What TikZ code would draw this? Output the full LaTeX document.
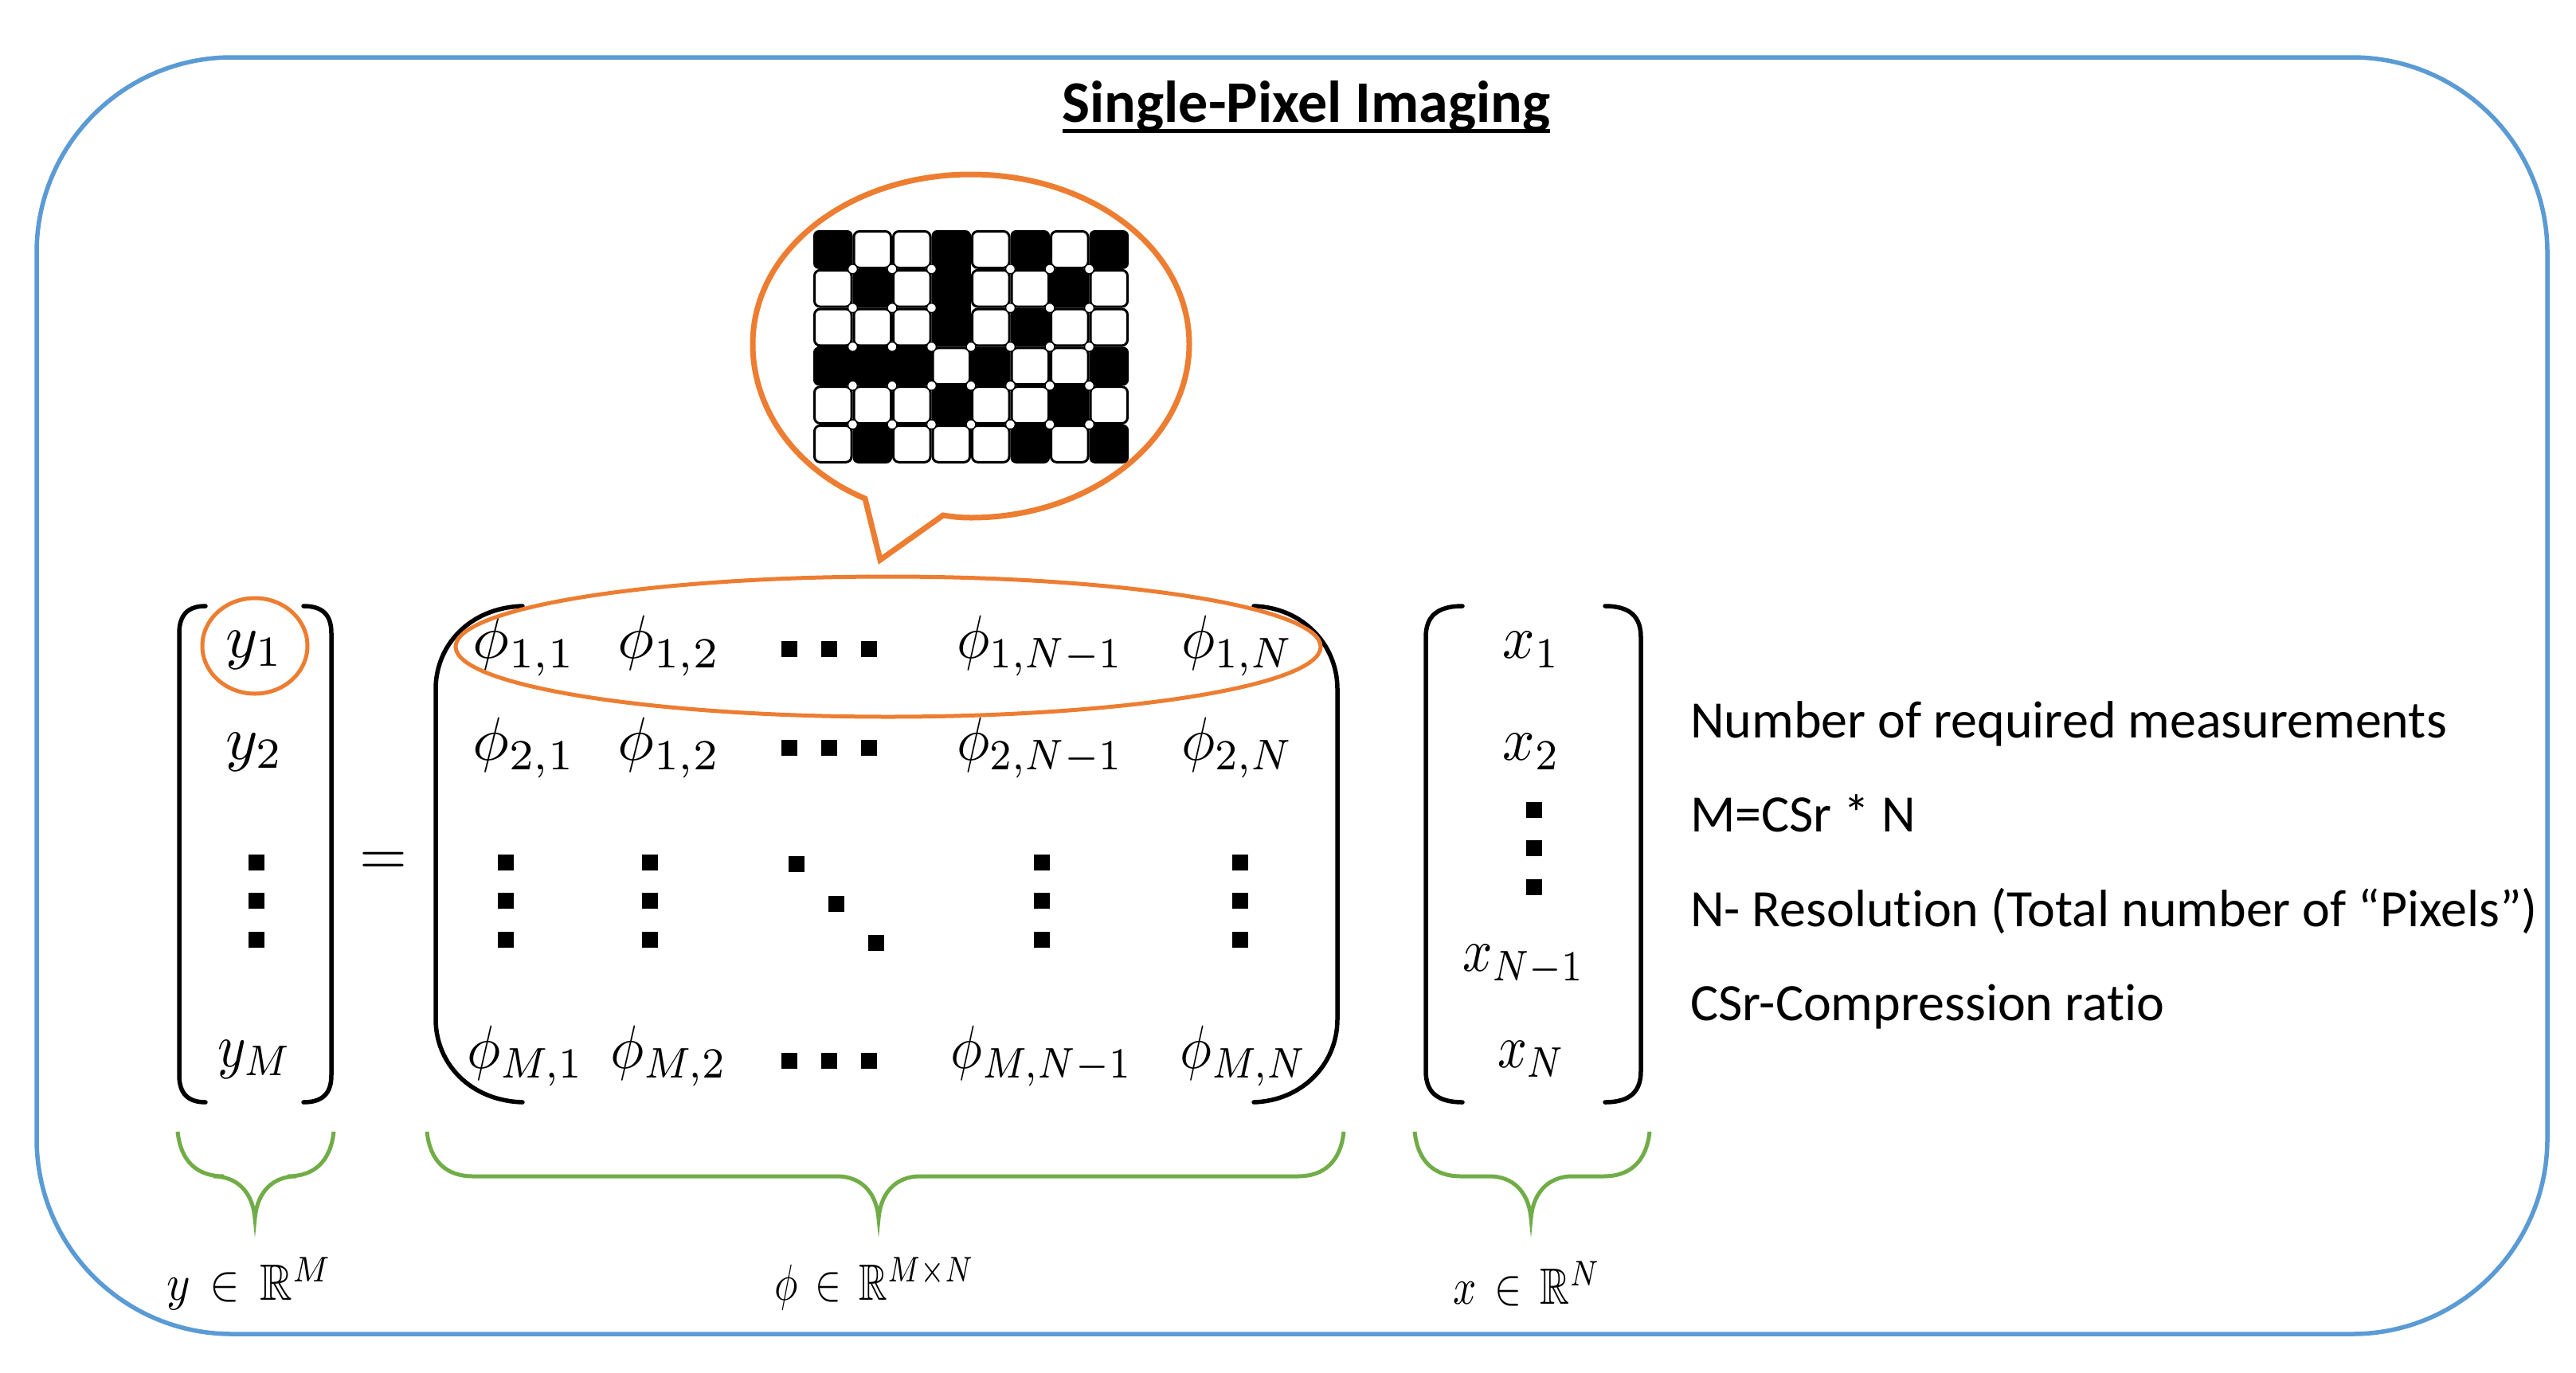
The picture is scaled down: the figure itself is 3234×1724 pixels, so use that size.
\documentclass[tikz,border=0pt]{standalone}
\usepackage{amsmath,amssymb}
\usepackage[no-math]{fontspec}
\setmainfont{Carlito}[Ligatures=NoCommon]
\usetikzlibrary{shapes.geometric}
\definecolor{frameblue}{HTML}{5B9BD5}
\definecolor{calloutor}{HTML}{ED7D31}
\definecolor{bracegreen}{HTML}{70AD47}
\tikzset{
  frameline/.style={draw=frameblue,line width=5.5pt},
  calloutline/.style={draw=calloutor,line width=7pt},
  ringline/.style={draw=calloutor,line width=5pt,ellipse,inner sep=0pt,fill=none},
  bracketline/.style={draw=black,line width=5.5pt,line cap=round},
  gbrace/.style={draw=bracegreen,line width=5pt},
  entry/.style={inner sep=0pt,scale=7.7},
  rlabel/.style={inner sep=0pt,scale=6.4},
  sidetext/.style={inner sep=0pt,anchor=base west,font=\fontsize{66}{66}\selectfont},
  dotsq/.style={fill=black,draw=none,minimum size=20pt,inner sep=0pt,rectangle},
}
\newcommand{\gbracepath}[3]{% left, tip, right
  \draw[gbrace] (#1,1421) .. controls (#1+4,1458) and (#1+24,1477) .. (#1+58,1477)
    -- (#2-52,1477) .. controls (#2-24,1477) and (#2-3,1495) .. (#2,1530)
    .. controls (#2+3,1495) and (#2+24,1477) .. (#2+52,1477)
    -- (#3-58,1477) .. controls (#3-24,1477) and (#3-4,1458) .. (#3,1421);}
\begin{document}
\begin{tikzpicture}[x=1pt,y=-1pt]
\useasboundingbox (0,0) rectangle (3234,1724);
\fill[white] (0,0) rectangle (3234,1724);
\draw[frameline,rounded corners=245pt] (46,72) rectangle (3198,1675);
\node[inner sep=0pt,font=\fontsize{74}{74}\selectfont\bfseries] (title) at (1640,134) {Single-Pixel Imaging};
\draw[black,line width=5pt] (title.west |- 0,164) -- (title.east |- 0,164);

% speech bubble
\coordinate (tip) at (1105,703);
\draw[calloutline,line join=miter] (1086,626)
  .. controls (1000,590) and (945,515) .. (945,432)
  .. controls (945,312) and (1068,219) .. (1219,219)
  .. controls (1370,219) and (1493,312) .. (1493,432)
  .. controls (1493,552) and (1370,650) .. (1219,650)
  .. controls (1207,650) and (1196,649) .. (1184,647) -- (tip) -- cycle;

% pixel pattern
\def\gx{1021}\def\gy{289}\def\gw{49.5}\def\gh{48.8}
\foreach \rowvals [count=\r from 0] in {{1,0,0,1,0,1,0,1},{0,1,0,1,0,0,1,0},{0,0,0,1,0,1,0,0},{1,1,1,0,1,0,0,1},{0,0,0,1,0,0,1,0},{0,1,0,0,0,1,0,1}}{
  \foreach \v [count=\c from 0] in \rowvals {
    \ifnum\v=1
      \fill[black,rounded corners=7pt] (\gx+\c*\gw,\gy+\r*\gh) rectangle ++(\gw,\gh);
    \else
      \draw[black,line width=3pt,rounded corners=7pt] (\gx+\c*\gw+1.5,\gy+\r*\gh+1.5) rectangle ++(\gw-3,\gh-3);
    \fi
  }
}
\fill[black] (\gx+3*\gw,\gy+5) rectangle ++(\gw,3*\gh-5);
\fill[black] (\gx+5,\gy+3*\gh) rectangle ++(3*\gw-5,\gh);
\foreach \i in {1,...,7}{\foreach \j in {1,...,5}{
  \ifnum\i=4 \ifnum\j<3 \else \filldraw[fill=white,draw=black,line width=1.5pt] (\gx+\i*\gw,\gy+\j*\gh) circle (6pt);\fi
  \else \filldraw[fill=white,draw=black,line width=1.5pt] (\gx+\i*\gw,\gy+\j*\gh) circle (6pt);\fi
}}

% brackets
\draw[bracketline] (258,761) .. controls (236,761) and (225,772) .. (225,795) -- (225,1350) .. controls (225,1373) and (236,1384) .. (258,1384);
\draw[bracketline] (381,761) .. controls (405,761) and (416,772) .. (416,795) -- (416,1350) .. controls (416,1373) and (405,1384) .. (381,1384);
\draw[bracketline] (656,761) .. controls (590,763) and (547,810) .. (547,865) -- (547,1280) .. controls (547,1335) and (590,1382) .. (656,1384);
\draw[bracketline] (1574,761) .. controls (1636,763) and (1679,810) .. (1679,865) -- (1679,1280) .. controls (1679,1335) and (1636,1382) .. (1574,1384);
\draw[bracketline] (1836,761) .. controls (1803,761) and (1790,775) .. (1790,800) -- (1790,1345) .. controls (1790,1370) and (1803,1384) .. (1836,1384);
\draw[bracketline] (2015,761) .. controls (2047,761) and (2060,775) .. (2060,800) -- (2060,1345) .. controls (2060,1370) and (2047,1384) .. (2015,1384);

% y vector
\node[entry] (y1) at (320,816) {$y_1$};
\node[entry] (y2) at (320,944) {$y_2$};
\node[entry,xscale=.88] (yM) at (320,1330) {$y_M$};
% equals
\node[entry] (eq) at (481,1084) {$=$};
% phi matrix
\node[entry] (p11) at (658,811) {$\phi_{1,1}$};
\node[entry] (p12) at (840,811) {$\phi_{1,2}$};
\node[entry,xscale=.9] (p15) at (1306,811) {$\phi_{1,N-1}$};
\node[entry,xscale=.92] (p16) at (1554,811) {$\phi_{1,N}$};
\node[entry] (p21) at (658,939) {$\phi_{2,1}$};
\node[entry] (p22) at (840,939) {$\phi_{1,2}$};
\node[entry,xscale=.9] (p25) at (1306,939) {$\phi_{2,N-1}$};
\node[entry,xscale=.92] (p26) at (1554,939) {$\phi_{2,N}$};
\node[entry,xscale=.92] (pM1) at (660,1326) {$\phi_{M,1}$};
\node[entry,xscale=.92] (pM2) at (840,1326) {$\phi_{M,2}$};
\node[entry,xscale=.87] (pM5) at (1308,1326) {$\phi_{M,N-1}$};
\node[entry,xscale=.87] (pM6) at (1561,1326) {$\phi_{M,N}$};
% x vector
\node[entry,xscale=.92] (x1) at (1923,816) {$x_1$};
\node[entry,xscale=.92] (x2) at (1923,944) {$x_2$};
\node[entry,xscale=.85] (xN1) at (1913,1212) {$x_{N-1}$};
\node[entry,xscale=.84] (xN) at (1923,1330) {$x_N$};

% square dots
\foreach \px/\py [count=\k] in {
  322/1083,322/1131,322/1180,
  635/1083,635/1131,635/1180,
  816/1083,816/1131,816/1180,
  1308/1083,1308/1131,1308/1180,
  1557/1083,1557/1131,1557/1180,
  1926/1017,1926/1065,1926/1114,
  1000/1085,1050/1135,1100/1184,
  991/815,1041/815,1091/815,
  991/939,1041/939,1091/939,
  991/1332,1041/1332,1091/1332}{
  \node[dotsq] (dot\k) at (\px,\py) {};
}

% rings
\node[ringline,minimum width=132pt,minimum height=120pt] (ringy) at (320,811) {};
\node[ringline,minimum width=1086pt,minimum height=176pt] (ringrow) at (1115,812) {};

% braces
\gbracepath{223}{320}{419}
\gbracepath{536}{1103}{1687}
\gbracepath{1776}{1922}{2071}

% domain labels
\node[rlabel,xscale=.88] (ly) at (313,1612) {$y\,\in\,\mathbb{R}^{M}$};
\node[rlabel,xscale=.77] (lp) at (1098,1612) {$\phi\,\in\,\mathbb{R}^{M\times N}$};
\node[rlabel,xscale=.8] (lx) at (1917,1612) {$x\,\in\,\mathbb{R}^{N}$};

% right text
\node[sidetext] (t1) at (2122,926) {Number of required measurements};
\node[sidetext] (t2) at (2122,1044) {M=CSr * N};
\node[sidetext] (t3) at (2122,1163) {N- Resolution (Total number of “Pixels”)};
\node[sidetext] (t4) at (2122,1281) {CSr-Compression ratio};
\end{tikzpicture}
\end{document}
